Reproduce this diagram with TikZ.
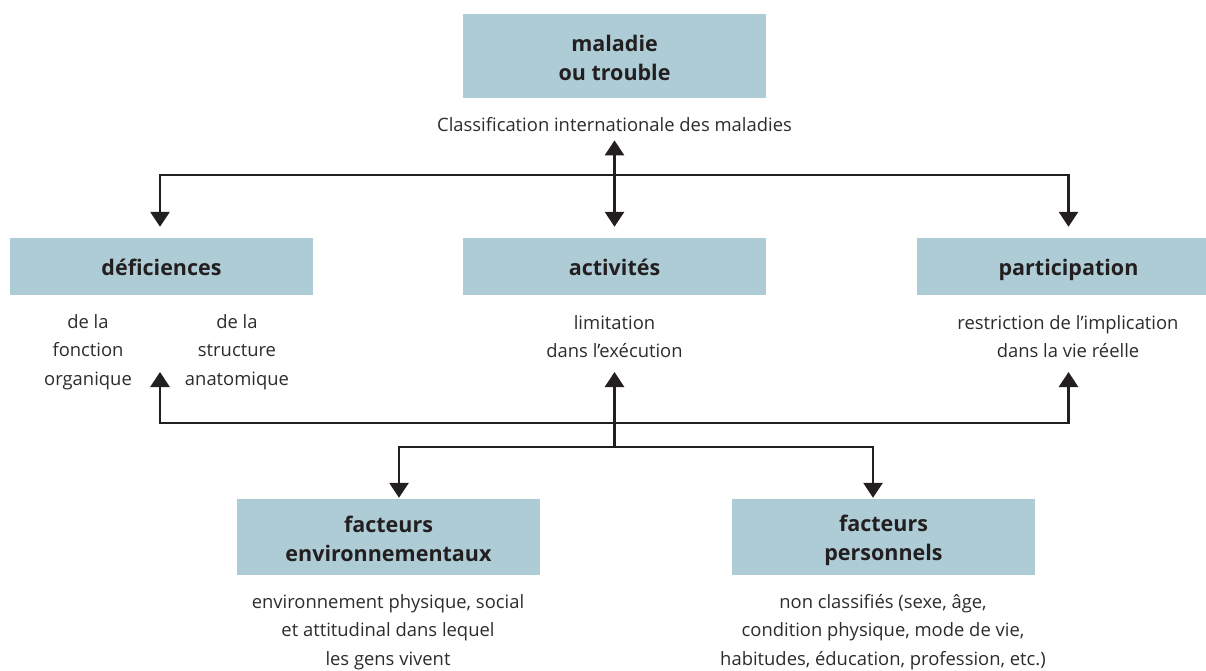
\documentclass[tikz,border=0pt]{standalone}
\usepackage{fontspec}
\setmainfont{Open Sans}
\usetikzlibrary{arrows.meta}
\definecolor{boxblue}{HTML}{AECCD5}
\definecolor{ink}{HTML}{231F20}
\definecolor{subink}{HTML}{2E2B2C}
\newcommand\bxs{\rule[-2.5pt]{0pt}{25.5pt}}
\begin{document}
\begin{tikzpicture}[x=1pt,y=-1pt,
  box/.style={fill=boxblue, minimum width=303pt, inner sep=0pt, align=center,
    font=\fontsize{21.5}{29}\selectfont\bfseries, text=ink},
  onebox/.style={box, minimum height=57pt, text height=24pt, text depth=6pt},
  sub/.style={align=center, font=\fontsize{18.4}{28.5}\selectfont, text=subink, inner sep=0pt},
  link/.style={line width=2.8pt, draw=ink},
  arr/.style={link, -{Triangle[width=19pt,length=15pt]}},
  darr/.style={link, {Triangle[width=19pt,length=15pt]}-{Triangle[width=19pt,length=15pt]}}]
\useasboundingbox (0,0) rectangle (1206,671);
\clip (0,0) rectangle (1206,671);
% boxes
\node[box, minimum height=84pt] (mal) at (614.5,56) {maladie\bxs\\ou trouble\bxs};
\node[sub, anchor=base] (cim) at (614.5,132) {Classification internationale des maladies};
\node[onebox] (def) at (161.5,266.5) {déficiences};
\node[onebox] (act) at (614.5,266.5) {activités};
\node[onebox] (par) at (1068.5,266.5) {participation};
\node[box, minimum height=76pt] (env) at (388.5,537) {facteurs\bxs\\environnementaux\bxs};
\node[box, minimum height=76pt] (pers) at (883.5,537) {facteurs\bxs\\personnels\bxs};
% sub texts
\node[sub, anchor=north] (fonc) at (88,314) {de la\\fonction\\organique};
\node[sub, anchor=north] (struc) at (237,314) {de la\\structure\\anatomique};
\node[sub, anchor=north] (lim) at (614.5,315) {limitation\\dans l’exécution};
\node[sub, anchor=north] (restr) at (1068,315) {restriction de l’implication\\dans la vie réelle};
\node[sub, anchor=north] (envt) at (388,594) {environnement physique, social\\et attitudinal dans lequel\\les gens vivent};
\node[sub, anchor=north] (perst) at (883,594) {non classifiés (sexe, âge,\\condition physique, mode de vie,\\habitudes, éducation, profession, etc.)};
% junctions
\coordinate (jtop) at (614.5,175);
\coordinate (jbot) at (614.5,423);
\coordinate (jlow) at (614.5,447);
\coordinate (tdef) at (160,372);
\coordinate (tact) at (614.5,372);
\coordinate (tpar) at (1068.5,372);
% connectors
\draw[darr, shorten <=8pt, shorten >=11pt] (cim.south) -- (act.north);
\draw[arr, shorten >=11pt] (jtop) -| ([xshift=-1.5pt]def.north);
\draw[arr, shorten >=11pt] (jtop) -| (par.north);
\draw[arr] (jbot) -| (tdef);
\draw[arr] (jbot) -| (tpar);
\draw[arr] (jlow) -- (tact);
\draw[arr, shorten >=1pt] (jlow) -| ([xshift=10.5pt]env.north);
\draw[arr, shorten >=1pt] (jlow) -| ([xshift=-10.5pt]pers.north);
\end{tikzpicture}
\end{document}
